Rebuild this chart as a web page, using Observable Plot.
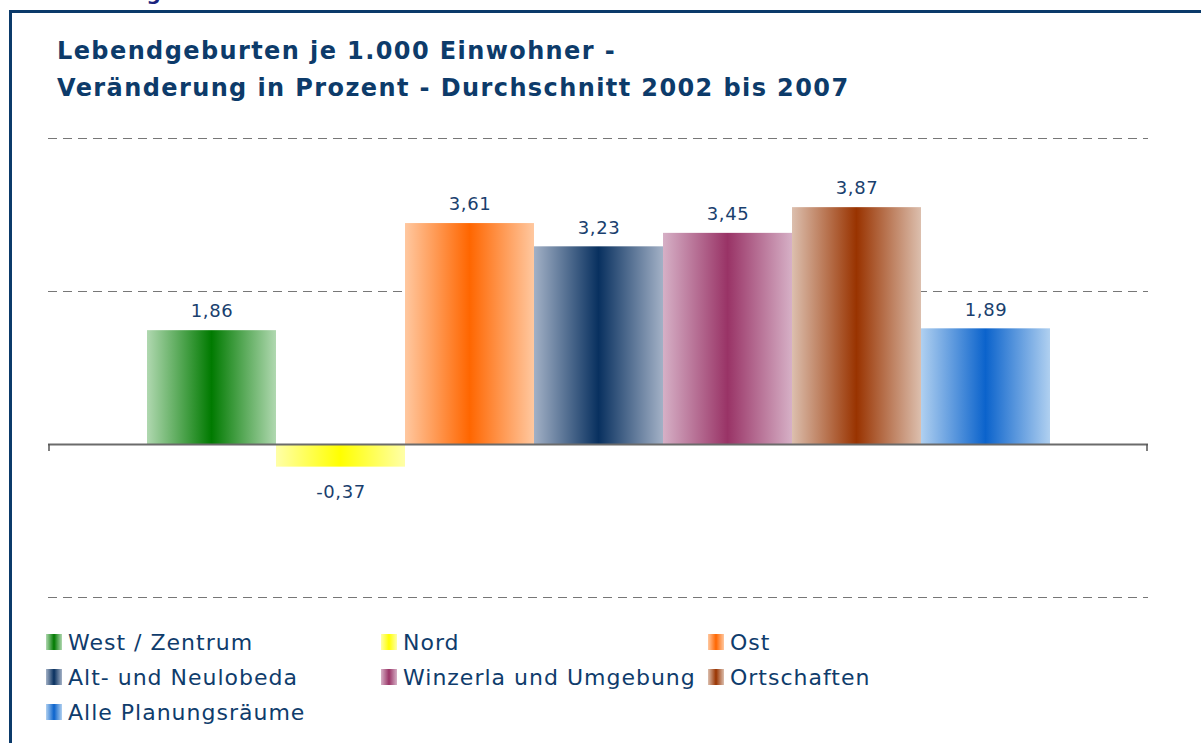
<!DOCTYPE html>
<html>
<head>
<meta charset="utf-8">
<script src="https://cdn.jsdelivr.net/npm/d3@7"></script>
<script src="https://cdn.jsdelivr.net/npm/@observablehq/plot@0.6"></script>
<style>
  html, body { margin: 0; padding: 0; background: #fff; width: 1201px; height: 743px; overflow: hidden; font-family: "DejaVu Sans", Verdana, sans-serif; }
  #cut { position: absolute; left: 0; top: 0; width: 400px; height: 6px; overflow: hidden; }
  #cut span { position: absolute; left: 46px; top: -19px; font-size: 20px; font-weight: bold; color: #1a237e; white-space: nowrap; }
  #frame { position: absolute; left: 9px; top: 10px; width: 1200px; height: 740px; border-left: 3px solid #0b3a6a; border-top: 3px solid #0b3a6a; }
  #title { position: absolute; left: 57px; top: 33px; font-size: 24px; letter-spacing: 1.4px; font-weight: bold; color: #0d3b6a; line-height: 37px; white-space: nowrap; }
  #chart { position: absolute; left: 0; top: 120px; }
  .leg { position: absolute; font-size: 22px; letter-spacing: 1px; color: #0f3c6c; white-space: nowrap; display: flex; align-items: center; }
  .leg i { display: inline-block; width: 16px; height: 16px; margin-right: 6px; }
</style>
</head>
<body>
<div id="cut"><span>Abbildung</span></div>
<div id="frame"></div>
<div id="title">Lebendgeburten je 1.000 Einwohner -<br>Veränderung in Prozent - Durchschnitt 2002 bis 2007</div>
<div id="chart"></div>
<div id="legend"></div>
<script>
const categories = ["West / Zentrum", "Nord", "Ost", "Alt- und Neulobeda", "Winzerla und Umgebung", "Ortschaften", "Alle Planungsräume"];
const values = [1.86, -0.37, 3.61, 3.23, 3.45, 3.87, 1.89];
const labels = ["1,86", "-0,37", "3,61", "3,23", "3,45", "3,87", "1,89"];
const darkColors = ["#007a00", "#ffff00", "#ff6600", "#08305f", "#993366", "#993300", "#0b63cc"];
const lightColors = ["#b0d8b0", "#ffffa8", "#ffc8a0", "#a3b1c6", "#d6b0c6", "#dcbfae", "#b0d0f0"];
const gridValues = [-2.5, 2.5, 5];

const data = categories.map((c, i) => ({cat: c, value: values[i], label: labels[i], idx: i}));
const pos = data.filter(d => d.value >= 0);
const neg = data.filter(d => d.value < 0);

const textStyle = {x: "cat", y: "value", text: "label", fontSize: 18, fill: "#1a3f6e", textAnchor: "middle"};

const chart = Plot.plot({
  width: 1201,
  height: 500,
  marginLeft: 48,
  marginRight: 53,
  marginTop: 18,
  marginBottom: 23,
  x: {domain: categories, paddingInner: 0, paddingOuter: 0.76, axis: null},
  y: {domain: [-2.5, 5], axis: null},
  style: {fontFamily: "'DejaVu Sans', Verdana, sans-serif", background: "transparent"},
  marks: [
    Plot.ruleY(gridValues, {stroke: "#777", strokeWidth: 1.2, strokeDasharray: "9,6"}),
    Plot.barY(data, {x: "cat", y: "value", fill: d => `url(#grad${d.idx})`, inset: 0}),
    Plot.ruleY([0], {stroke: "#6b6b6b", strokeWidth: 2}),
    Plot.text(pos, {...textStyle, dy: -19}),
    Plot.text(neg, {...textStyle, dy: 25})
  ]
});

// gradients
const svg = d3.select(chart);
const defs = svg.insert("defs", ":first-child");
darkColors.forEach((dc, i) => {
  const g = defs.append("linearGradient").attr("id", "grad" + i).attr("x1", "0").attr("x2", "1").attr("y1", "0").attr("y2", "0");
  g.append("stop").attr("offset", "0").attr("stop-color", lightColors[i]);
  g.append("stop").attr("offset", "0.5").attr("stop-color", dc);
  g.append("stop").attr("offset", "1").attr("stop-color", lightColors[i]);
});
svg.selectAll("text").attr("letter-spacing", "0.6px");
// end ticks on the zero axis
const y0 = chart.scale("y").apply(0);
[49, 1147].forEach(x => {
  svg.append("line").attr("x1", x).attr("x2", x).attr("y1", y0).attr("y2", y0 + 7)
    .attr("stroke", "#555").attr("stroke-width", 1.5);
});
document.getElementById("chart").appendChild(chart);

// legend
const legX = [46, 381, 708];
const legY = [642, 677, 712];
const legend = document.getElementById("legend");
categories.forEach((c, i) => {
  const el = document.createElement("div");
  el.className = "leg";
  el.style.left = legX[i % 3] + "px";
  el.style.top = (legY[Math.floor(i / 3)] - 13) + "px";
  el.style.height = "26px";
  const sw = document.createElement("i");
  sw.style.background = `linear-gradient(to right, ${lightColors[i]}, ${darkColors[i]}, ${lightColors[i]})`;
  el.appendChild(sw);
  el.appendChild(document.createTextNode(c));
  legend.appendChild(el);
});
</script>
</body>
</html>
